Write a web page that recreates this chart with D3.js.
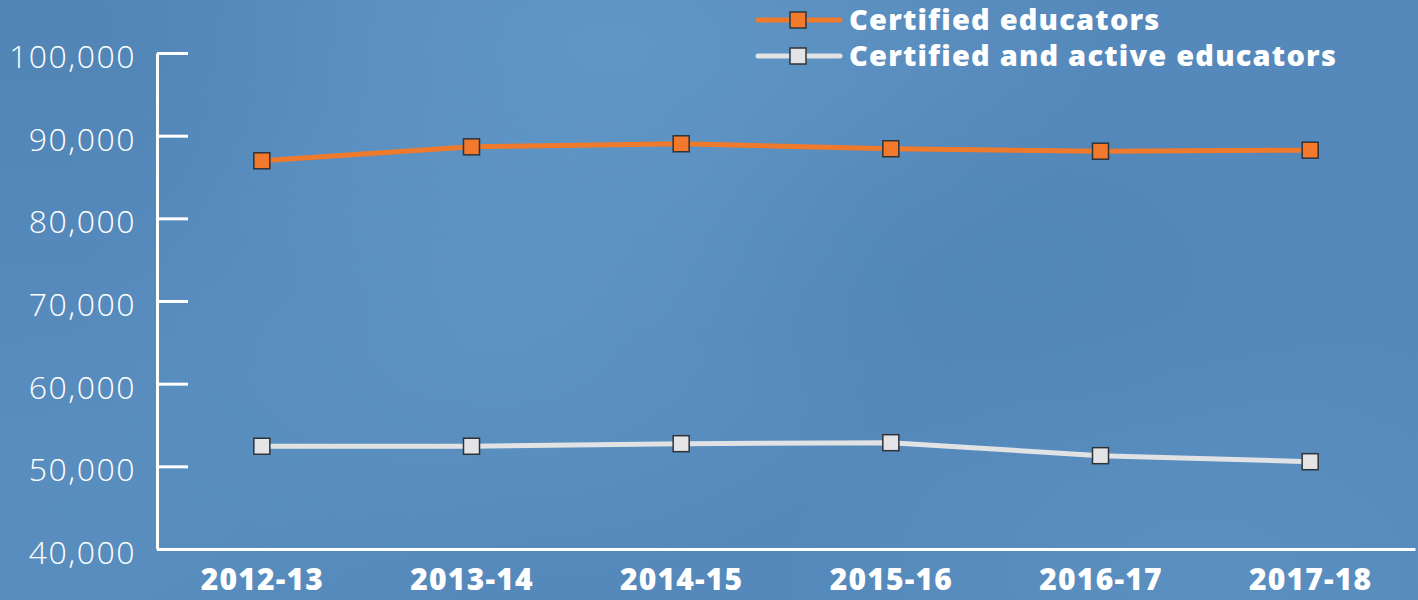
<!DOCTYPE html>
<html>
<head>
<meta charset="utf-8">
<script src="https://cdn.jsdelivr.net/npm/d3@7"></script>
<style>
  html, body { margin: 0; padding: 0; }
  body { width: 1418px; height: 600px; overflow: hidden; }
</style>
</head>
<body>
<div id="chart"></div>
<script>
// Chart data
var years = ["2012-13", "2013-14", "2014-15", "2015-16", "2016-17", "2017-18"];
var certified = [86960, 88650, 89020, 88420, 88120, 88250];
var certifiedActive = [52430, 52430, 52740, 52860, 51290, 50560];
var yTicks = [40000, 50000, 60000, 70000, 80000, 90000, 100000];
var seriesNames = ["Certified educators", "Certified and active educators"];

var width = 1418,
    height = 600;

var svg = d3.select("#chart")
    .append("svg")
    .attr("width", width)
    .attr("height", height);

// Background: blue with soft cloudy patches
var defs = svg.append("defs");
var blobs = [
    { id: "b1", cx: 0.43, cy: 0.08, r: 0.35, c: "#6aa2cf", o: 0.55 },
    { id: "b2", cx: 0.35, cy: 0.55, r: 0.30, c: "#67a0cd", o: 0.45 },
    { id: "b3", cx: 0.05, cy: 0.85, r: 0.30, c: "#5f97c6", o: 0.4 },
    { id: "b4", cx: 0.85, cy: 0.95, r: 0.30, c: "#6299c8", o: 0.4 },
    { id: "b5", cx: 0.72, cy: 0.45, r: 0.25, c: "#4b82b3", o: 0.4 },
    { id: "b6", cx: 0.02, cy: 0.05, r: 0.25, c: "#4a80b0", o: 0.45 }
];
blobs.forEach(function (b) {
    var g = defs.append("radialGradient").attr("id", b.id);
    g.append("stop").attr("offset", "0%").attr("stop-color", b.c).attr("stop-opacity", b.o);
    g.append("stop").attr("offset", "100%").attr("stop-color", b.c).attr("stop-opacity", 0);
});
svg.append("rect").attr("width", width).attr("height", height).attr("fill", "#5589bb");
blobs.forEach(function (b) {
    svg.append("ellipse")
        .attr("cx", b.cx * width)
        .attr("cy", b.cy * height)
        .attr("rx", b.r * width)
        .attr("ry", b.r * width * 0.6)
        .attr("fill", "url(#" + b.id + ")");
});

// Plot area edges
var plotLeft = 157, plotRight = 1415, plotTop = 53, plotBottom = 549;

var x = d3.scalePoint()
    .domain(years)
    .range([plotLeft, plotRight])
    .padding(0.5);

var y = d3.scaleLinear()
    .domain([40000, 100000])
    .range([plotBottom, plotTop]);

// Y axis
var yAxis = svg.append("g")
    .attr("transform", "translate(" + plotLeft + ",0)")
    .call(d3.axisLeft(y)
        .tickValues(yTicks)
        .tickSizeInner(-31)
        .tickSizeOuter(0)
        .tickPadding(21)
        .tickFormat(d3.format(",")));

yAxis.select(".domain").attr("stroke", "#fff").attr("stroke-width", 3);
yAxis.selectAll(".tick line").attr("stroke", "#fff").attr("stroke-width", 3);
yAxis.selectAll(".tick text")
    .attr("fill", "#fff")
    .attr("dy", "0.45em")
    .style("font-family", "'Open Sans', sans-serif")
    .style("font-weight", 300)
    .style("font-size", "32px")
    .style("letter-spacing", "1.5px");

// X axis
var xAxis = svg.append("g")
    .attr("transform", "translate(0," + plotBottom + ")")
    .call(d3.axisBottom(x).tickSize(0).tickPadding(20));

xAxis.select(".domain").attr("stroke", "#fff").attr("stroke-width", 3);
xAxis.selectAll(".tick text")
    .attr("fill", "#fff")
    .attr("dy", "0.71em")
    .style("font-family", "'Open Sans', sans-serif")
    .style("font-weight", 800)
    .style("font-size", "30px")
    .style("letter-spacing", "1.2px");

// Lines and markers
var line = d3.line()
    .x(function (d, i) { return x(years[i]); })
    .y(function (d) { return y(d); });

var series = [
    { values: certified, stroke: "#f07a2b", fill: "#f37a2c" },
    { values: certifiedActive, stroke: "#e1e2e4", fill: "#e4e4e6" }
];

var markerSize = 16;

series.forEach(function (s) {
    svg.append("path")
        .datum(s.values)
        .attr("d", line)
        .attr("fill", "none")
        .attr("stroke", s.stroke)
        .attr("stroke-width", 5);

    svg.selectAll(null)
        .data(s.values)
        .enter()
        .append("rect")
        .attr("x", function (d, i) { return x(years[i]) - markerSize / 2; })
        .attr("y", function (d) { return y(d) - markerSize / 2; })
        .attr("width", markerSize)
        .attr("height", markerSize)
        .attr("fill", s.fill)
        .attr("stroke", "#2e3338")
        .attr("stroke-width", 1.5);
});

// Legend
var legend = svg.append("g").attr("transform", "translate(758,20)");
var rows = legend.selectAll("g")
    .data(seriesNames)
    .enter()
    .append("g")
    .attr("transform", function (d, i) { return "translate(0," + i * 36 + ")"; });

rows.append("line")
    .attr("x1", 0).attr("x2", 82)
    .attr("stroke", function (d, i) { return series[i].stroke; })
    .attr("stroke-width", 5)
    .attr("stroke-linecap", "round");

rows.append("rect")
    .attr("x", 40 - markerSize / 2)
    .attr("y", -markerSize / 2)
    .attr("width", markerSize)
    .attr("height", markerSize)
    .attr("fill", function (d, i) { return series[i].fill; })
    .attr("stroke", "#2e3338")
    .attr("stroke-width", 1.5);

rows.append("text")
    .attr("x", 91)
    .attr("dy", "0.36em")
    .attr("fill", "#fff")
    .style("font-family", "'Open Sans', sans-serif")
    .style("font-weight", 800)
    .style("font-size", "29px")
    .style("letter-spacing", "1.2px")
    .text(function (d) { return d; });
</script>
</body>
</html>
